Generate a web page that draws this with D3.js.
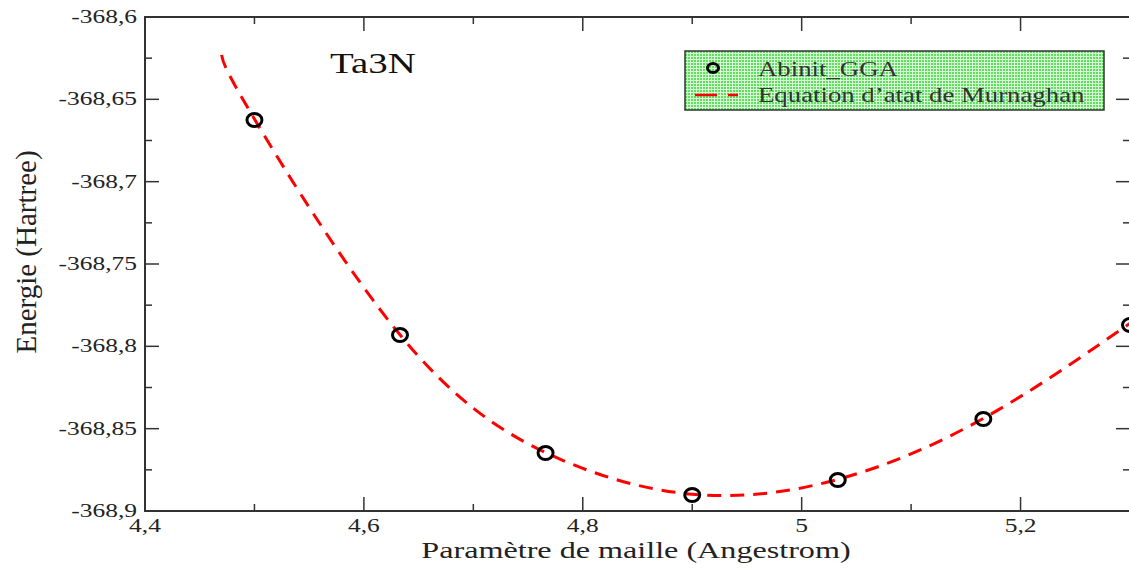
<!DOCTYPE html>
<html lang="fr">
  <head>
    <meta charset="utf-8" />
    <title>Ta3N - Energie vs parametre de maille</title>
    <style>
      html,
      body {
        margin: 0;
        padding: 0;
        background: #fff;
      }
      svg {
        display: block;
      }
    </style>
  </head>
  <body>
    <svg></svg>
    <script src="https://cdn.jsdelivr.net/npm/d3@7/dist/d3.min.js"></script>
    <script>
      // Abinit GGA points
      const latticeParams = [4.5, 4.633, 4.766, 4.9, 5.033, 5.166, 5.3]
      const energies = [-368.6626, -368.7931, -368.8648, -368.8903, -368.8812, -368.8441, -368.787]

      // Murnaghan fit
      const fitX = [4.47, 4.5, 4.633, 4.766, 4.9, 5.033, 5.166, 5.3]
      const fitY = [-368.623, -368.662, -368.793, -368.8645, -368.8898, -368.8808, -368.8438, -368.786]

      const xTicks = [4.4, 4.6, 4.8, 5.0, 5.2]
      const xMinor = [4.5, 4.7, 4.9, 5.1]
      const yTicks = [-368.6, -368.65, -368.7, -368.75, -368.8, -368.85, -368.9]
      const yMinor = [-368.625, -368.675, -368.725, -368.775, -368.825, -368.875]

      const legendLabels = ['Abinit_GGA', 'Equation d\u2019atat de Murnaghan']

      const width = 1129,
        height = 572
      const mLeft = 145,
        mRight = 1130,
        mTop = 17,
        mBottom = 511
      const serif = '"Liberation Serif", "Times New Roman", Tinos, serif'
      const stretch = 1.34 // the original image is stretched horizontally

      const svg = d3.select('svg').attr('width', width).attr('height', height)

      const x = d3.scaleLinear().domain([4.4, 5.3]).range([mLeft, mRight])
      const y = d3.scaleLinear().domain([-368.9, -368.6]).range([mBottom, mTop])

      const comma = (f) => (d) => f(d).replace('.', ',')
      const fx = comma((d) => String(+d.toFixed(2)))
      const fy = comma((d) => String(+d.toFixed(3)))

      // text stretched like the picture
      function label(g, tx, ty, str, size, anchor) {
        return g
          .append('text')
          .attr('transform', `translate(${tx},${ty}) scale(${stretch},1)`)
          .attr('text-anchor', anchor || 'start')
          .style('font-family', serif)
          .style('font-size', size + 'px')
          .attr('fill', '#222')
          .text(str)
      }

      // legend fill pattern (dotted green)
      const defs = svg.append('defs')
      const pat = defs
        .append('pattern')
        .attr('id', 'dots')
        .attr('width', 3)
        .attr('height', 3)
        .attr('patternUnits', 'userSpaceOnUse')
      pat.append('rect').attr('width', 3).attr('height', 3).attr('fill', '#d8f8d8')
      pat.append('rect').attr('width', 2).attr('height', 2).attr('fill', '#5ee05e')

      // frame
      svg
        .append('rect')
        .attr('x', mLeft)
        .attr('y', mTop)
        .attr('width', mRight - mLeft)
        .attr('height', mBottom - mTop)
        .attr('fill', 'none')
        .attr('stroke', '#333')
        .attr('stroke-width', 2)

      const tickLen = 14,
        minorLen = 7
      const ticks = svg.append('g').attr('stroke', '#333').attr('stroke-width', 1.5)
      const xAll = xTicks.concat(xMinor)
      const yAll = yTicks.concat(yMinor)

      // x ticks, bottom and top
      ticks
        .append('g')
        .selectAll('line')
        .data(xAll)
        .join('line')
        .attr('x1', (d) => x(d))
        .attr('x2', (d) => x(d))
        .attr('y1', mBottom)
        .attr('y2', (d) => mBottom - (xTicks.includes(d) ? tickLen : minorLen))
      ticks
        .append('g')
        .selectAll('line')
        .data(xAll)
        .join('line')
        .attr('x1', (d) => x(d))
        .attr('x2', (d) => x(d))
        .attr('y1', mTop)
        .attr('y2', (d) => mTop + (xTicks.includes(d) ? tickLen : minorLen))

      // y ticks, left and right
      ticks
        .append('g')
        .selectAll('line')
        .data(yAll)
        .join('line')
        .attr('y1', (d) => y(d))
        .attr('y2', (d) => y(d))
        .attr('x1', mLeft)
        .attr('x2', (d) => mLeft + (yTicks.includes(d) ? tickLen : minorLen))
      ticks
        .append('g')
        .selectAll('line')
        .data(yAll)
        .join('line')
        .attr('y1', (d) => y(d))
        .attr('y2', (d) => y(d))
        .attr('x1', mRight)
        .attr('x2', (d) => mRight - (yTicks.includes(d) ? tickLen : minorLen))

      // tick labels
      const tl = svg.append('g')
      xTicks.forEach((d) => label(tl, x(d), mBottom + 21, fx(d), 19, 'middle'))
      yTicks.forEach((d) => label(tl, mLeft - 8, y(d) + 6, fy(d), 19, 'end'))

      // axis titles
      label(svg, 636, 558, 'Paramètre de maille (Angestrom)', 24, 'middle')

      svg
        .append('text')
        .attr('transform', 'translate(36,252) rotate(-90)')
        .attr('text-anchor', 'middle')
        .style('font-family', serif)
        .style('font-size', '29px')
        .attr('fill', '#222')
        .text('Energie (Hartree)')

      // fit curve
      const fit = fitX.map((d, i) => [d, fitY[i]])
      const line = d3
        .line()
        .x((d) => x(d[0]))
        .y((d) => y(d[1]))
        .curve(d3.curveNatural)

      svg
        .append('path')
        .datum(fit)
        .attr('d', line)
        .attr('fill', 'none')
        .attr('stroke', '#f00')
        .attr('stroke-width', 3)
        .attr('stroke-dasharray', '14,9')

      // data points
      svg
        .append('g')
        .selectAll('ellipse')
        .data(latticeParams)
        .join('ellipse')
        .attr('cx', (d) => x(d))
        .attr('cy', (d, i) => y(energies[i]))
        .attr('rx', 7.5)
        .attr('ry', 6.5)
        .attr('fill', 'none')
        .attr('stroke', '#000')
        .attr('stroke-width', 3)

      // title
      label(svg, 330, 73, 'Ta3N', 29).attr('fill', '#111')

      // legend
      const lg = svg.append('g').attr('transform', 'translate(685,51)')
      lg.append('rect')
        .attr('width', 419)
        .attr('height', 59)
        .attr('fill', 'url(#dots)')
        .attr('stroke', '#333')
        .attr('stroke-width', 1.5)
      lg.append('ellipse')
        .attr('cx', 28)
        .attr('cy', 17)
        .attr('rx', 5.5)
        .attr('ry', 4.5)
        .attr('fill', 'none')
        .attr('stroke', '#000')
        .attr('stroke-width', 3)
      lg.append('line')
        .attr('x1', 10)
        .attr('x2', 53)
        .attr('y1', 44)
        .attr('y2', 44)
        .attr('stroke', '#f00')
        .attr('stroke-width', 2.5)
        .attr('stroke-dasharray', '22,11')
      legendLabels.forEach((d, i) => label(lg, 73, 25 + i * 26, d, 20).attr('fill', '#333'))
    </script>
  </body>
</html>
